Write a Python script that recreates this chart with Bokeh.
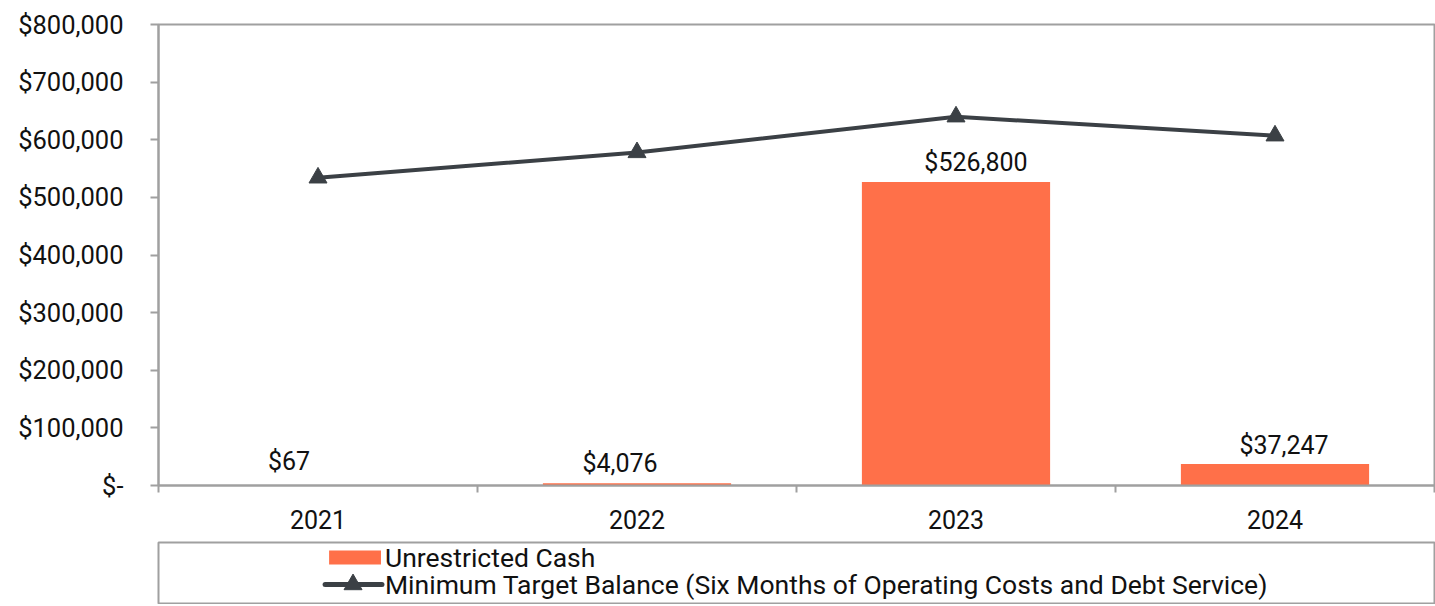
from bokeh.plotting import figure
from bokeh.models import Range1d, FixedTicker, ColumnDataSource
from bokeh.layouts import column
from bokeh.embed import file_html
from bokeh.resources import INLINE
from bokeh.core.properties import value

# ---- data ----
years = ["2021", "2022", "2023", "2024"]
unrestricted_cash = [67, 4076, 526800, 37247]
minimum_target = [534000, 578000, 640000, 607000]
y_ticks = [0, 100000, 200000, 300000, 400000, 500000, 600000, 700000, 800000]
series_names = ["Unrestricted Cash",
                "Minimum Target Balance (Six Months of Operating Costs and Debt Service)"]

# ---- style ----
label_dx = [-29, -17, 20, 9]
label_dy = [-9, -5, -5, -4]
FONT = "Roboto"
FS = "25px"
TEXT = "#111111"
GRAY = "#a0a0a0"
BAR = "#FF7049"
LINE = "#3B4045"

x = [i + 0.5 for i in range(len(years))]
src = ColumnDataSource(dict(
    x=x, cash=unrestricted_cash, target=minimum_target,
    label=[f"${v:,}" for v in unrestricted_cash],
    dx=label_dx, dy=label_dy,
))

p = figure(width=1435, height=541, output_backend="svg", toolbar_location=None,
           x_range=Range1d(0, len(years)), y_range=Range1d(0, y_ticks[-1]),
           min_border_left=158, min_border_right=1, min_border_top=24,
           min_border_bottom=56)
p.background_fill_color = "white"
p.border_fill_color = "white"
p.outline_line_color = GRAY
p.outline_line_width = 2
p.xgrid.visible = False
p.ygrid.visible = False

p.vbar(x="x", top="cash", width=0.59, source=src, fill_color=BAR, line_color=None)
p.line(x="x", y="target", source=src, line_color=LINE, line_width=4, line_join="round")
p.scatter(x="x", y="target", source=src, marker="triangle", size=18,
          fill_color=LINE, line_color=LINE)
p.text(x="x", y="cash", text="label", x_offset="dx", y_offset="dy", source=src,
       text_align="center", text_baseline="bottom",
       text_font=value(FONT), text_font_size=FS, text_color=TEXT)

xa = p.xaxis[0]
xa.ticker = FixedTicker(ticks=x, minor_ticks=list(range(len(years) + 1)))
xa.major_label_overrides = {xi: yr for xi, yr in zip(x, years)}
xa.major_tick_line_color = None
xa.minor_tick_in = 0
xa.minor_tick_out = 7
xa.minor_tick_line_color = GRAY
xa.minor_tick_line_width = 2
xa.axis_line_color = GRAY
xa.axis_line_width = 2
xa.major_label_standoff = 17
xa.major_label_text_font = FONT
xa.major_label_text_font_size = FS
xa.major_label_text_color = TEXT

ya = p.yaxis[0]
ya.ticker = FixedTicker(ticks=y_ticks)
ya.major_label_overrides = {t: ("$-" if t == 0 else f"${t:,}") for t in y_ticks}
ya.major_tick_in = 0
ya.major_tick_out = 8
ya.major_tick_line_color = GRAY
ya.major_tick_line_width = 2
ya.minor_tick_line_color = None
ya.axis_line_color = GRAY
ya.axis_line_width = 2
ya.major_label_standoff = 27
ya.major_label_text_font = FONT
ya.major_label_text_font_size = "25.5px"
ya.major_label_text_color = TEXT

# ---- legend panel ----
q = figure(width=1435, height=63, output_backend="svg", toolbar_location=None,
           x_range=Range1d(0, 1279), y_range=Range1d(0, 61),
           x_axis_location=None, y_axis_location=None,
           min_border_left=155, min_border_right=1, min_border_top=1, min_border_bottom=1)
q.background_fill_color = "white"
q.border_fill_color = "white"
q.outline_line_color = GRAY
q.outline_line_width = 2
q.grid.visible = False

q.quad(left=[171], right=[223], bottom=[39], top=[53], fill_color=BAR, line_color=None)
q.line(x=[167, 224], y=[19, 19], line_color=LINE, line_width=5, line_cap="round")
q.scatter(x=[195], y=[19], marker="triangle", size=18, fill_color=LINE, line_color=LINE)
q.text(x=[227, 227], y=[46, 19], text=series_names, text_align="left",
       text_baseline="middle", text_font=value(FONT), text_font_size="26.5px",
       text_color=TEXT)

layout = column(p, q, spacing=0)
open("out.html", "w").write(file_html(layout, INLINE))
